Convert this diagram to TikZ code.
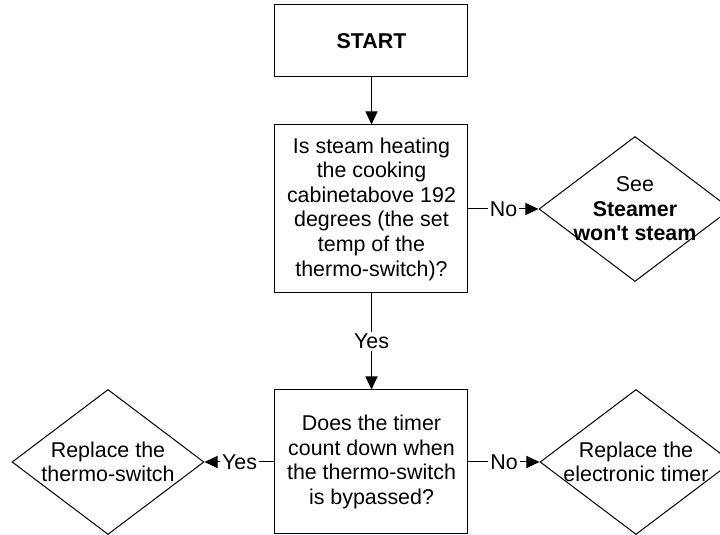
\documentclass[tikz,border=0pt]{standalone}
\usepackage{fontspec}
\setmainfont{Liberation Sans}[Ligatures=TeXOff]
\usetikzlibrary{
	arrows.meta,
	shapes.geometric,
	positioning,
}
\newcommand{\chartfont}{\fontsize{10.7}{12.3}\selectfont}
\tikzset{
	process box/.style={
		draw,
		rectangle,
		minimum width=96.5pt,
		inner sep=0pt,
		align=center,
		font=\chartfont,
	},
	decision/.style={
		draw,
		diamond,
		minimum width=96pt,
		minimum height=72.5pt,
		inner sep=0pt,
	},
	decision text/.style={
		align=center,
		inner sep=0pt,
		font=\chartfont,
	},
	branch label/.style={
		fill=white,
		inner sep=1pt,
		font=\chartfont,
	},
	flow arrow/.style={-{Triangle[length=6.5pt,width=6pt]}},
}

\begin{document}
\begin{tikzpicture}[x=0.5pt,y=-0.5pt,line width=0.5pt]
\useasboundingbox (0,0) rectangle (720,535);
\clip (0,0) rectangle (720,535);

% process boxes
\node[process box,minimum height=36pt] (start) at (371.5,41) {\textbf{START}};
\node[process box,minimum height=84pt] (steam) at (371.5,209)
	{Is steam heating\\the cooking\\cabinetabove 192\\degrees (the set\\temp of the\\thermo-switch)?};
\node[process box,minimum height=72pt] (timer) at (371.5,462)
	{Does the timer\\count down when\\the thermo-switch\\is bypassed?};

% decisions
\foreach \n \x \y in {
	see/635/209
	,switch/108/462
	,elec/636/462
}{
	\node[decision] (\n) at (\x,\y) {};
}
\node[decision text] (seetext) at (see) {See\\\textbf{Steamer}\\\textbf{won't steam}};
\node[decision text] (switchtext) at (switch) {Replace the\\thermo-switch};
\node[decision text] (electext) at (elec) {Replace the\\electronic timer};

% connectors
\draw[flow arrow] (start) -- (steam);
\draw[flow arrow] (steam) -- node[branch label] (steamyes) {Yes} (timer);
\draw[flow arrow] (steam) -- node[branch label] (steamno) {No} (see);
\draw[flow arrow] (timer) -- node[branch label] (timeryes) {Yes} (switch);
\draw[flow arrow] (timer) -- node[branch label] (timerno) {No} (elec);
\end{tikzpicture}
\end{document}
